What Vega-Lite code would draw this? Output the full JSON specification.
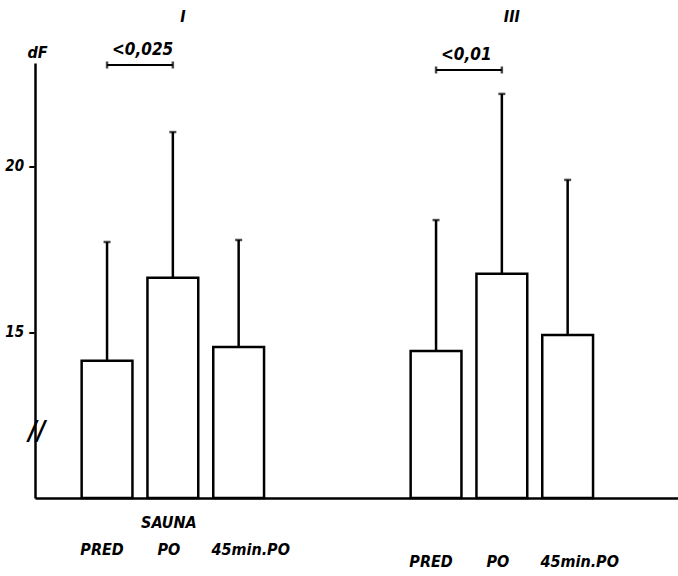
{
  "$schema": "https://vega.github.io/schema/vega-lite/v6.json",
  "width": 643,
  "height": 435,
  "autosize": "none",
  "padding": {"left": 35, "top": 63, "right": 0, "bottom": 78},
  "background": "white",
  "config": {
    "view": {"stroke": null},
    "font": "Liberation Sans Narrow, DejaVu Sans Condensed, Liberation Sans, sans-serif",
    "axis": {"domainColor": "black", "labelColor": "black", "titleColor": "black"}
  },
  "datasets": {
    "bars": [
      {"slot": "I-PRED", "group": "I", "phase": "PRED", "mean": 14.13, "upper": 17.71},
      {"slot": "I-PO", "group": "I", "phase": "PO", "mean": 16.63, "upper": 21.02},
      {"slot": "I-45", "group": "I", "phase": "45min.PO", "mean": 14.55, "upper": 17.77},
      {"slot": "III-PRED", "group": "III", "phase": "PRED", "mean": 14.43, "upper": 18.37},
      {"slot": "III-PO", "group": "III", "phase": "PO", "mean": 16.75, "upper": 22.17},
      {"slot": "III-45", "group": "III", "phase": "45min.PO", "mean": 14.91, "upper": 19.58}
    ],
    "notes": [
      {"slot": "I-PO", "label": "I"},
      {"slot": "III-PO", "label": "III"}
    ],
    "sig": [
      {"from": "I-PRED", "to": "I-PO", "p": "<0,025", "h": 23.04},
      {"from": "III-PRED", "to": "III-PO", "p": "<0,01", "h": 22.89}
    ]
  },
  "layer": [
    {
      "data": {"name": "bars"},
      "mark": {"type": "bar", "fill": "white", "stroke": "black", "strokeWidth": 2.5},
      "encoding": {
        "x": {
          "field": "slot",
          "type": "nominal",
          "sort": null,
          "scale": {
            "type": "band",
            "domain": ["I-PRED", "I-PO", "I-45", "gap1", "gap2", "III-PRED", "III-PO", "III-45"],
            "paddingInner": 0.228,
            "paddingOuter": 1.03,
            "align": 0.3545,
            "round": false
          },
          "axis": {
            "title": null,
            "ticks": false,
            "domainWidth": 2.5,
            "labelAngle": 0,
            "labelFontSize": 16,
            "labelFontStyle": "italic",
            "labelFontWeight": "bold",
            "labelLineHeight": 27,
            "labelBaseline": "top",
            "labelPadding": {"condition": {"test": "indexof(datum.value,'III')==0", "value": 28}, "value": 16},
            "labelOffset": {"condition": [{"test": "indexof(datum.value,'PRED')>0", "value": -5}, {"test": "indexof(datum.value,'45')>0", "value": 12}], "value": -4},
            "labelExpr": "datum.value=='I-PO' ? ['SAUNA','PO'] : indexof(datum.value,'gap')==0 ? '' : [' ', indexof(datum.value,'PRED')>0 ? 'PRED' : indexof(datum.value,'45')>0 ? '45min.PO' : 'PO']"
          }
        },
        "y": {
          "field": "mean",
          "type": "quantitative",
          "scale": {"domain": [10, 23.1], "zero": false, "nice": false},
          "axis": {
            "title": "dF",
            "titleAngle": 0,
            "titleX": 2,
            "titleY": -11,
            "titleAlign": "center",
            "titleBaseline": "middle",
            "titleFontSize": 16,
            "titleFontStyle": "italic",
            "titleFontWeight": "bold",
            "values": [12, 15, 20],
            "labelExpr": "datum.value==12 ? '//' : datum.label + ' –'",
            "grid": false,
            "domainWidth": 2.5,
            "ticks": false,
            "tickSize": 0,
            "labelBaseline": "middle",
            "labelPadding": {"condition": {"test": "datum.value==12", "value": -10}, "value": 0},
            "labelFontSize": {"condition": {"test": "datum.value==12", "value": 26}, "value": 15},
            "labelFontStyle": "italic",
            "labelFontWeight": "bold"
          }
        },
        "y2": {"datum": 10}
      }
    },
    {
      "data": {"name": "bars"},
      "mark": {"type": "rule", "color": "black", "strokeWidth": 2.5},
      "encoding": {
        "x": {"field": "slot", "type": "nominal"},
        "y": {"field": "mean", "type": "quantitative"},
        "y2": {"field": "upper"}
      }
    },
    {
      "data": {"name": "bars"},
      "mark": {"type": "tick", "color": "black", "size": 7, "thickness": 2.5},
      "encoding": {
        "x": {"field": "slot", "type": "nominal"},
        "y": {"field": "upper", "type": "quantitative"}
      }
    },
    {
      "data": {"name": "notes"},
      "mark": {"type": "text", "color": "black", "fontSize": 16, "fontStyle": "italic", "fontWeight": "bold", "dx": 10},
      "encoding": {
        "x": {"field": "slot", "type": "nominal"},
        "y": {"datum": 24.5, "type": "quantitative"},
        "text": {"field": "label"}
      }
    },
    {
      "data": {"name": "sig"},
      "mark": {"type": "rule", "color": "black", "strokeWidth": 2},
      "encoding": {
        "x": {"field": "from", "type": "nominal"},
        "x2": {"field": "to"},
        "y": {"field": "h", "type": "quantitative"}
      }
    },
    {
      "data": {"name": "sig"},
      "mark": {"type": "tick", "orient": "vertical", "color": "black", "size": 7, "thickness": 2.5},
      "encoding": {
        "x": {"field": "from", "type": "nominal"},
        "y": {"field": "h", "type": "quantitative"}
      }
    },
    {
      "data": {"name": "sig"},
      "mark": {"type": "tick", "orient": "vertical", "color": "black", "size": 7, "thickness": 2.5},
      "encoding": {
        "x": {"field": "to", "type": "nominal"},
        "y": {"field": "h", "type": "quantitative"}
      }
    },
    {
      "data": {"name": "sig"},
      "mark": {"type": "text", "color": "black", "fontSize": 17, "fontStyle": "italic", "fontWeight": "bold", "align": "left", "baseline": "bottom", "dx": 5, "dy": -6},
      "encoding": {
        "x": {"field": "from", "type": "nominal"},
        "y": {"field": "h", "type": "quantitative"},
        "text": {"field": "p"}
      }
    }
  ]
}
